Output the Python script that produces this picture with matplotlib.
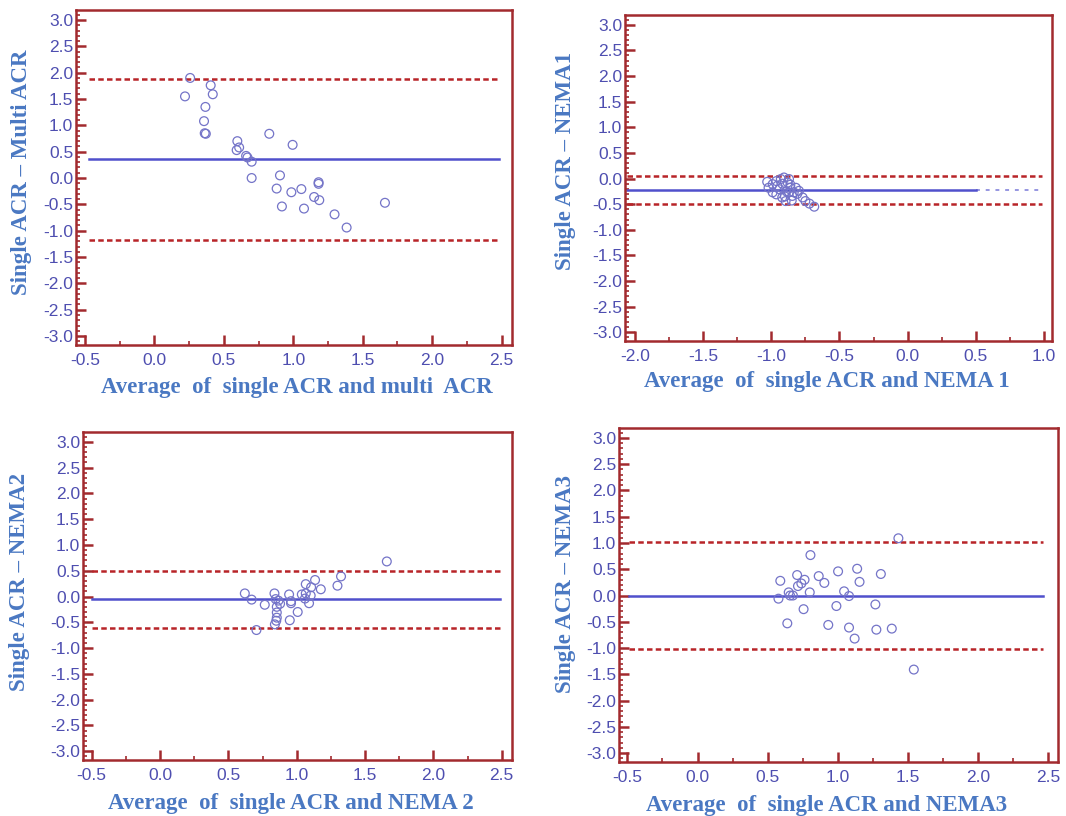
import matplotlib
matplotlib.use("Agg")
import matplotlib.pyplot as plt
from matplotlib.ticker import MultipleLocator, FormatStrFormatter

plt.rcParams['axes.unicode_minus'] = False

# ---------------- data ----------------
# Panel 1: single ACR vs multi ACR
p1_x = [0.22, 0.257, 0.405, 0.42, 0.367, 0.357, 0.362, 0.37, 0.597, 0.61,
        0.592, 0.66, 0.67, 0.70, 0.70, 0.827, 0.995, 0.904, 0.88, 0.918,
        0.986, 1.058, 1.077, 1.182, 1.182, 1.15, 1.187, 1.297, 1.384, 1.66]
p1_y = [1.55, 1.90, 1.76, 1.59, 1.35, 1.08, 0.85, 0.84, 0.70, 0.58,
        0.53, 0.42, 0.39, 0.31, 0.0, 0.84, 0.63, 0.05, -0.20, -0.54,
        -0.27, -0.21, -0.58, -0.08, -0.11, -0.36, -0.42, -0.69, -0.94, -0.47]
p1_mean, p1_upper, p1_lower = 0.36, 1.88, -1.17

# Panel 2: single ACR vs NEMA 1
p2_x = [-1.03, -0.99, -0.963, -0.93, -0.907, -0.88, -0.99, -0.963, -0.94, -0.92,
        -0.895, -0.87, -0.846, -0.82, -0.797, -0.77, -0.75, -0.72, -0.685, -0.86,
        -0.89, -0.835, -0.955, -0.92, -0.86, -1.02, -0.90, -0.85, -0.81, -0.87]
p2_y = [-0.065, -0.11, -0.05, -0.01, 0.02, -0.08, -0.27, -0.31, -0.21, -0.37,
        -0.44, -0.27, -0.34, -0.18, -0.24, -0.37, -0.44, -0.49, -0.55, -0.18,
        -0.25, -0.27, -0.14, -0.10, -0.12, -0.18, -0.35, -0.43, -0.30, -0.01]
p2_mean, p2_upper, p2_lower = -0.23, 0.04, -0.50

# Panel 3: single ACR vs NEMA 2
p3_x = [0.62, 0.67, 0.705, 0.766, 0.837, 0.846, 0.866, 0.854, 0.854, 0.854,
        0.85, 0.84, 0.878, 0.944, 0.958, 0.958, 0.949, 1.007, 1.037, 1.066,
        1.066, 1.105, 1.102, 1.09, 1.134, 1.176, 1.298, 1.324, 1.659, 1.06]
p3_y = [0.06, -0.06, -0.65, -0.16, 0.06, -0.05, -0.08, -0.20, -0.31, -0.41,
        -0.47, -0.54, -0.14, 0.04, -0.09, -0.13, -0.46, -0.30, 0.04, 0.24,
        0.06, 0.18, 0.02, -0.13, 0.32, 0.14, 0.21, 0.39, 0.68, -0.04]
p3_mean, p3_upper, p3_lower = -0.05, 0.50, -0.62

# Panel 4: single ACR vs NEMA 3
p4_x = [0.59, 0.577, 0.64, 0.65, 0.66, 0.68, 0.71, 0.716, 0.74, 0.763,
        0.756, 0.805, 0.80, 0.864, 0.904, 0.932, 0.99, 1.002, 1.045, 1.08,
        1.08, 1.12, 1.138, 1.155, 1.268, 1.275, 1.307, 1.385, 1.432, 1.542]
p4_y = [0.28, -0.06, -0.53, 0.06, 0.0, 0.0, 0.39, 0.18, 0.23, 0.30,
        -0.26, 0.77, 0.06, 0.37, 0.24, -0.56, -0.20, 0.46, 0.08, -0.01,
        -0.61, -0.82, 0.51, 0.26, -0.17, -0.65, 0.41, -0.63, 1.09, -1.41]
p4_mean, p4_upper, p4_lower = 0.0, 1.01, -1.01

ylabels = ["Single ACR \u2013 Multi ACR", "Single ACR \u2013 NEMA1",
           "Single ACR \u2013 NEMA2", "Single ACR \u2013 NEMA3"]
xlabels = ["Average  of  single ACR and multi  ACR", "Average  of  single ACR and NEMA 1",
           "Average  of  single ACR and NEMA 2", "Average  of  single ACR and NEMA3"]

# ---------------- style ----------------
W, H = 1066, 816
SPINE = "#a22a2e"
TICKLBL = "#4e4eb0"
LABEL = "#4a78c2"
MEAN = "#5050cc"
LOA = "#b82428"
MARK = "#7474c8"

fig = plt.figure(figsize=(W / 100, H / 100), dpi=100)

def px_axes(l, r, t, b):
    return fig.add_axes([l / W, 1 - b / H, (r - l) / W, (b - t) / H])

panels = [
    dict(box=(76, 512, 10, 345), xlim=(-0.565, 2.575), line=(-0.47, 2.48),
         x=p1_x, y=p1_y, m=p1_mean, u=p1_upper, lo=p1_lower,
         ylab=(22, 172), xlab=(297, 388)),
    dict(box=(625, 1052, 15, 341), xlim=(-2.073, 1.059), line=(-2.056, 0.988),
         x=p2_x, y=p2_y, m=p2_mean, u=p2_upper, lo=p2_lower,
         ylab=(565, 161), xlab=(827, 382)),
    dict(box=(83, 512, 432, 760), xlim=(-0.564, 2.575), line=(-0.5, 2.49),
         x=p3_x, y=p3_y, m=p3_mean, u=p3_upper, lo=p3_lower,
         ylab=(20, 582), xlab=(291, 804)),
    dict(box=(619, 1058, 428, 762), xlim=(-0.56, 2.57), line=(-0.486, 2.46),
         x=p4_x, y=p4_y, m=p4_mean, u=p4_upper, lo=p4_lower,
         ylab=(565, 584), xlab=(827, 805)),
]

for i, p in enumerate(panels):
    ax = px_axes(*p["box"])
    ax.set_xlim(*p["xlim"])
    ax.set_ylim(-3.17, 3.19)
    for s in ax.spines.values():
        s.set_color(SPINE)
        s.set_linewidth(1.8)
    ax.xaxis.set_major_locator(MultipleLocator(0.5))
    ax.xaxis.set_minor_locator(MultipleLocator(0.25))
    ax.yaxis.set_major_locator(MultipleLocator(0.5))
    ax.yaxis.set_minor_locator(MultipleLocator(0.1))
    ax.xaxis.set_major_formatter(FormatStrFormatter("%.1f"))
    ax.yaxis.set_major_formatter(FormatStrFormatter("%.1f"))
    ax.tick_params(which="major", direction="in", color=SPINE, length=7, width=1.8,
                   labelcolor=TICKLBL, labelsize=12.5, top=False, right=False)
    ax.tick_params(which="minor", direction="in", color=SPINE, length=3, width=1.2,
                   top=False, right=False)
    ax.tick_params(axis="y", which="major", pad=2)
    ax.tick_params(axis="x", which="major", pad=6)
    for t in ax.get_xticklabels() + ax.get_yticklabels():
        t.set_fontfamily(["Liberation Sans", "DejaVu Sans"])

    x0, x1 = p["line"]
    if i == 1:
        ax.plot([x0, 0.5], [p["m"], p["m"]], color=MEAN, lw=1.8, zorder=2)
        ax.plot([0.5, x1], [p["m"], p["m"]], color=MEAN, lw=1.4, ls=(0, (2, 3)), alpha=0.6, zorder=2)
    else:
        ax.plot([x0, x1], [p["m"], p["m"]], color=MEAN, lw=1.8, zorder=2)
    for v in (p["u"], p["lo"]):
        ax.plot([x0, x1], [v, v], color=LOA, lw=1.8, ls=(0, (2.2, 1.3)), zorder=2)

    ax.scatter(p["x"], p["y"], s=40, facecolors="none", edgecolors=MARK,
               linewidths=0.9, zorder=3)

    fig.text(p["ylab"][0] / W, 1 - p["ylab"][1] / H, ylabels[i], rotation=90,
             ha="center", va="center", color=LABEL, fontsize=16.5, fontweight="bold",
             family=["Liberation Serif", "DejaVu Serif"])
    fig.text(p["xlab"][0] / W, 1 - p["xlab"][1] / H, xlabels[i],
             ha="center", va="center", color=LABEL, fontsize=16.5, fontweight="bold",
             family=["Liberation Serif", "DejaVu Serif"])

fig.savefig("out.png", dpi=100)
